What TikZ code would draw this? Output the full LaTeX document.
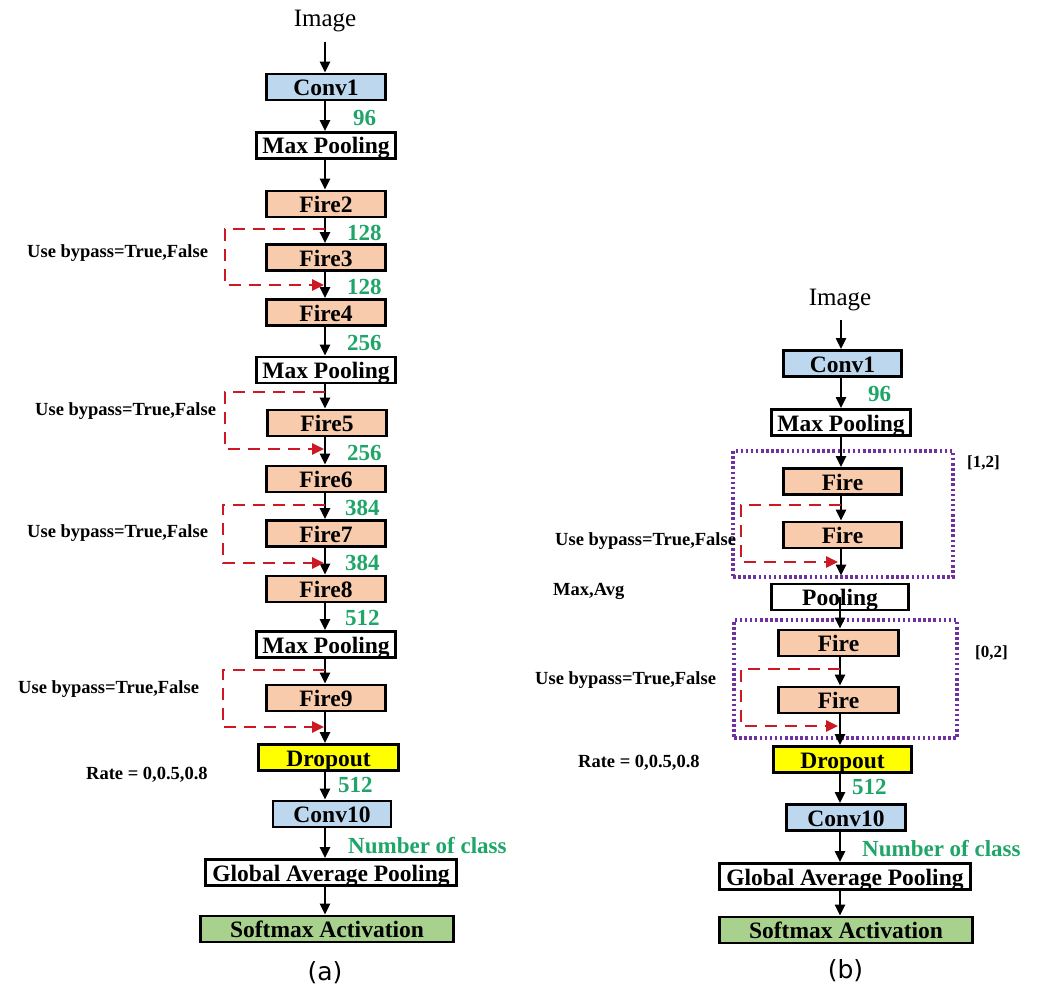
\documentclass[tikz,border=0pt]{standalone}
\usepackage{fontspec}
\setmainfont{Liberation Serif}
\newfontfamily\dejasans{DejaVu Sans}
\usetikzlibrary{arrows.meta}
\definecolor{convblue}{RGB}{189,215,238}
\definecolor{firebg}{RGB}{248,203,173}
\definecolor{dropy}{RGB}{255,255,0}
\definecolor{softg}{RGB}{169,209,142}
\definecolor{numg}{RGB}{32,165,105}
\definecolor{byred}{RGB}{205,25,35}
\definecolor{grpurple}{RGB}{112,48,160}
\begin{document}
\begin{tikzpicture}[x=1pt,y=-1pt,
  blk/.style={draw=black, line width=2.8pt, inner sep=0pt, align=center,
    font=\fontsize{23.5}{26}\selectfont\bfseries, text height=21pt, text depth=4pt,
    minimum height=26pt},
  wd/.style={minimum width=#1},
  conv/.style={blk, fill=convblue},
  fire/.style={blk, fill=firebg},
  pool/.style={blk, fill=white},
  drop/.style={blk, fill=dropy},
  soft/.style={blk, fill=softg},
  num/.style={inner sep=0pt, anchor=west, text=numg, font=\fontsize{23}{25}\selectfont\bfseries},
  side/.style={inner sep=0pt, anchor=west, font=\fontsize{18.5}{20}\selectfont\bfseries},
  imgtxt/.style={inner sep=0pt, font=\fontsize{25}{28}\selectfont},
  captxt/.style={inner sep=0pt, font=\dejasans\fontsize{25}{28}\selectfont},
  arr/.style={draw=black, line width=2.2pt, -{Triangle[length=11pt,width=10pt]}},
  byp/.style={draw=byred, line width=2.5pt, dash pattern=on 12pt off 8pt,
    -{Triangle[length=12pt,width=11pt]}},
  grp/.style={draw=grpurple, line width=3.2pt, dash pattern=on 2.5pt off 2.6pt, inner sep=0pt}
]
\useasboundingbox (0,0) rectangle (1054,992);

% ================= (a) =================
\coordinate (colA) at (325,0);
\node[imgtxt] (imgA) at (325,21) {Image};
\node[conv, wd=119pt] (c1A) at (326,87) {Conv1};
\node[pool, wd=139pt] (mp1A) at (326,145.5) {Max Pooling};
\node[fire, wd=119pt] (f2A) at (326,204) {Fire2};
\node[fire, wd=119pt] (f3A) at (326,257.5) {Fire3};
\node[fire, wd=119pt] (f4A) at (326,312.5) {Fire4};
\node[pool, wd=139pt] (mp2A) at (326,370) {Max Pooling};
\node[fire, wd=119pt] (f5A) at (327,423) {Fire5};
\node[fire, wd=119pt] (f6A) at (326,479) {Fire6};
\node[fire, wd=119pt] (f7A) at (326,533.5) {Fire7};
\node[fire, wd=119pt] (f8A) at (326,589) {Fire8};
\node[pool, wd=139pt] (mp3A) at (326,644.5) {Max Pooling};
\node[fire, wd=119pt] (f9A) at (326,698) {Fire9};
\node[drop, wd=140pt] (drA) at (328.5,757.5) {Dropout};
\node[conv, wd=118pt] (c10A) at (332,814) {Conv10};
\node[pool, wd=251pt] (gapA) at (331,872.5) {Global Average Pooling};
\node[soft, wd=253pt] (smA) at (327,929) {Softmax Activation};
\node[captxt] (capA) at (325,973) {(a)};

\draw[arr, shorten <=10pt] (colA |- imgA.south) -- (colA |- c1A.north);
\draw[arr] (colA |- c1A.south) -- (colA |- mp1A.north);
\draw[arr] (colA |- mp1A.south) -- (colA |- f2A.north);
\draw[arr] (colA |- f2A.south) -- (colA |- f3A.north);
\draw[arr] (colA |- f3A.south) -- (colA |- f4A.north);
\draw[arr] (colA |- f4A.south) -- (colA |- mp2A.north);
\draw[arr] (colA |- mp2A.south) -- (colA |- f5A.north);
\draw[arr] (colA |- f5A.south) -- (colA |- f6A.north);
\draw[arr] (colA |- f6A.south) -- (colA |- f7A.north);
\draw[arr] (colA |- f7A.south) -- (colA |- f8A.north);
\draw[arr] (colA |- f8A.south) -- (colA |- mp3A.north);
\draw[arr] (colA |- mp3A.south) -- (colA |- f9A.north);
\draw[arr] (colA |- f9A.south) -- (colA |- drA.north);
\draw[arr] (colA |- drA.south) -- (colA |- c10A.north);
\draw[arr] (colA |- c10A.south) -- (colA |- gapA.north);
\draw[arr] (colA |- gapA.south) -- (colA |- smA.north);

\node[num] (nA1) at (353,118) {96};
\node[num] (nA2) at (347,233) {128};
\node[num] (nA3) at (347,287) {128};
\node[num] (nA4) at (347,343) {256};
\node[num] (nA5) at (347,453) {256};
\node[num] (nA6) at (345,508) {384};
\node[num] (nA7) at (345,563) {384};
\node[num] (nA8) at (345,618) {512};
\node[num] (nA9) at (338,785) {512};
\node[num] (nA10) at (348,846) {Number of class};

% bypasses (a)
\coordinate (bA1t) at (325,229); \coordinate (bA1c) at (225,285); \coordinate (bA1e) at (324,285);
\coordinate (bA2t) at (325,392); \coordinate (bA2c) at (225,449); \coordinate (bA2e) at (324,449);
\coordinate (bA3t) at (325,505); \coordinate (bA3c) at (223,563); \coordinate (bA3e) at (324,563);
\coordinate (bA4t) at (325,670); \coordinate (bA4c) at (223,727); \coordinate (bA4e) at (324,727);
\draw[byp] (bA1t) -| (bA1c) -- (bA1e);
\draw[byp] (bA2t) -| (bA2c) -- (bA2e);
\draw[byp] (bA3t) -| (bA3c) -- (bA3e);
\draw[byp] (bA4t) -| (bA4c) -- (bA4e);
\node[side] (sA1) at (27,253) {Use bypass=True,False};
\node[side] (sA2) at (35,411) {Use bypass=True,False};
\node[side] (sA3) at (27,533) {Use bypass=True,False};
\node[side] (sA4) at (18,689) {Use bypass=True,False};
\node[side] (sA5) at (86,775) {Rate = 0,0.5,0.8};

% ================= (b) =================
\coordinate (colB) at (841,0);
\node[grp, minimum width=220pt, minimum height=126pt] (g1B) at (843,514) {};
\node[grp, minimum width=223pt, minimum height=118pt] (g2B) at (845.5,679) {};
\node[imgtxt] (imgB) at (840,300) {Image};
\node[conv, wd=118pt] (c1B) at (842.5,363.5) {Conv1};
\node[pool, wd=139pt] (mpB) at (841,422.5) {Max Pooling};
\node[fire, wd=118pt] (fB1) at (842.5,481.5) {Fire};
\node[fire, wd=118pt] (fB2) at (842.5,535) {Fire};
\node[pool, wd=137pt] (plB) at (840,597) {Pooling};
\node[fire, wd=120pt] (fB3) at (838.5,643) {Fire};
\node[fire, wd=120pt] (fB4) at (838.5,700) {Fire};
\node[drop, wd=138pt] (drB) at (842.5,759.5) {Dropout};
\node[conv, wd=119pt] (c10B) at (846,817.5) {Conv10};
\node[pool, wd=251pt] (gapB) at (845,876.5) {Global Average Pooling};
\node[soft, wd=253pt] (smB) at (846,930) {Softmax Activation};
\node[captxt] (capB) at (845.5,971) {(b)};

\draw[arr, shorten <=9pt] (colB |- imgB.south) -- (colB |- c1B.north);
\draw[arr] (colB |- c1B.south) -- (colB |- mpB.north);
\draw[arr] (colB |- mpB.south) -- (colB |- fB1.north);
\draw[arr] (colB |- fB1.south) -- (colB |- fB2.north);
\draw[arr, shorten >=3pt] (colB |- fB2.south) -- (colB |- g1B.south);
\draw[arr] (plB.center) -- (plB.center |- fB3.north);
\draw[arr] (plB.center |- fB3.south) -- (plB.center |- fB4.north);
\draw[arr] (plB.center |- fB4.south) -- (plB.center |- drB.north);
\draw[arr] (plB.center |- drB.south) -- (plB.center |- c10B.north);
\draw[arr] (plB.center |- c10B.south) -- (plB.center |- gapB.north);
\draw[arr] (plB.center |- gapB.south) -- (plB.center |- smB.north);

\node[num] (nB1) at (868,394) {96};
\node[num] (nB2) at (852,787) {512};
\node[num] (nB3) at (862,849) {Number of class};

\coordinate (bB1t) at (841,505); \coordinate (bB1c) at (741,562); \coordinate (bB1e) at (838,562);
\coordinate (bB2t) at (840,669); \coordinate (bB2c) at (741,726); \coordinate (bB2e) at (838,726);
\draw[byp] (bB1t) -| (bB1c) -- (bB1e);
\draw[byp] (bB2t) -| (bB2c) -- (bB2e);

\node[side] (sB1) at (555,541) {Use bypass=True,False};
\node[side] (sB2) at (535,680) {Use bypass=True,False};
\node[side] (sB3) at (553,591) {Max,Avg};
\node[side] (sB4) at (578,763) {Rate = 0,0.5,0.8};
\node[side, font=\fontsize{17}{19}\selectfont\bfseries] (sB5) at (967,463) {[1,2]};
\node[side, font=\fontsize{17}{19}\selectfont\bfseries] (sB6) at (975,653) {[0,2]};
\end{tikzpicture}
\end{document}
